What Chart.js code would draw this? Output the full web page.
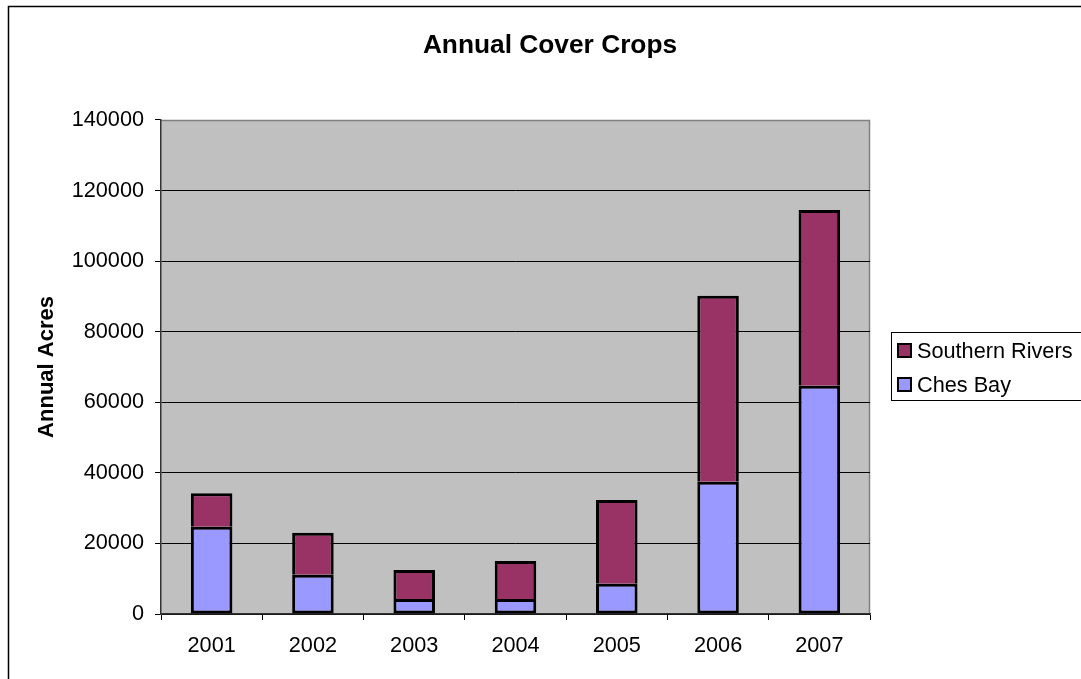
<!DOCTYPE html>
<html>
<head>
<meta charset="utf-8">
<title>Annual Cover Crops</title>
<script src="https://cdn.jsdelivr.net/npm/chart.js@4/dist/chart.umd.min.js"></script>
<style>
  html, body { margin: 0; padding: 0; background: #ffffff; }
  #wrap { position: relative; width: 1081px; height: 679px; }
  canvas { display: block; }
</style>
</head>
<body>
<div id="wrap"><canvas id="chart" width="1081" height="679"></canvas></div>
<script>
// Acres enrolled per year, by region
const years = ['2001', '2002', '2003', '2004', '2005', '2006', '2007'];
const chesBay = [24700, 11100, 4250, 4250, 8600, 37500, 64700];
const southernRivers = [9500, 11900, 8200, 10800, 23700, 52700, 49800];
const yTicks = [0, 20000, 40000, 60000, 80000, 100000, 120000, 140000];

const FONT = '"Liberation Sans", Arial, Helvetica, sans-serif';

// Grey plot background, plot frame, outer chart frame and boxed legend
const decor = {
  id: 'decor',
  beforeDraw(chart) {
    const { ctx, chartArea: a } = chart;
    ctx.save();
    ctx.fillStyle = '#c0c0c0';
    ctx.fillRect(a.left, a.top, a.right - a.left, a.bottom - a.top);
    ctx.strokeStyle = '#808080';
    ctx.lineWidth = 1.5;
    ctx.beginPath();
    ctx.moveTo(a.left, a.top + 0.5);
    ctx.lineTo(a.right - 0.5, a.top + 0.5);
    ctx.lineTo(a.right - 0.5, a.bottom);
    ctx.stroke();
    // outer frame
    ctx.strokeStyle = '#000000';
    ctx.lineWidth = 1.5;
    ctx.beginPath();
    ctx.moveTo(8.5, chart.height + 2);
    ctx.lineTo(8.5, 6.5);
    ctx.lineTo(chart.width + 2, 6.5);
    ctx.stroke();
    ctx.restore();
  },
  afterDraw(chart) {
    const { ctx } = chart;
    ctx.save();
    ctx.strokeStyle = '#000000';
    ctx.lineWidth = 1;
    ctx.strokeRect(891.5, 332.5, 220, 68);
    const items = chart.data.datasets.slice().reverse();
    const rowY = [343, 377];
    ctx.font = '21.7px ' + FONT;
    ctx.textBaseline = 'alphabetic';
    ctx.textAlign = 'left';
    items.forEach((ds, i) => {
      const y = rowY[i];
      ctx.fillStyle = ds.backgroundColor;
      ctx.fillRect(897, y, 15, 15);
      ctx.lineWidth = 2;
      ctx.strokeStyle = '#000000';
      ctx.strokeRect(898, y + 1, 13, 13);
      ctx.fillStyle = '#000000';
      ctx.fillText(ds.label, 917, y + 15);
    });
    ctx.restore();
  }
};

new Chart(document.getElementById('chart'), {
  type: 'bar',
  data: {
    labels: years,
    datasets: [
      {
        label: 'Ches Bay',
        data: chesBay,
        backgroundColor: '#9999ff',
        borderColor: '#000000',
        borderWidth: 3,
        borderSkipped: false,
        barPercentage: 0.41,
        categoryPercentage: 1
      },
      {
        label: 'Southern Rivers',
        data: southernRivers,
        backgroundColor: '#993366',
        borderColor: '#000000',
        borderWidth: 3,
        borderSkipped: 'bottom',
        barPercentage: 0.41,
        categoryPercentage: 1
      }
    ]
  },
  options: {
    responsive: false,
    animation: false,
    devicePixelRatio: 1,
    layout: { padding: { left: 19, right: 0, top: 0, bottom: 0 } },
    plugins: {
      legend: { display: false },
      tooltip: { enabled: false },
      title: {
        display: true,
        text: 'Annual Cover Crops',
        color: '#000000',
        font: { family: FONT, size: 26.3, weight: 'bold' },
        padding: { top: 30, bottom: 58.4 }
      }
    },
    scales: {
      x: {
        stacked: true,
        grid: {
          display: true,
          drawOnChartArea: false,
          drawTicks: true,
          tickLength: 6,
          color: '#000000',
          offset: true
        },
        border: { display: true, color: '#333333', width: 1.5 },
        ticks: {
          color: '#000000',
          padding: 13,
          font: { family: FONT, size: 21.7 }
        },
        afterFit(scale) { scale.height = 65; }
      },
      y: {
        stacked: true,
        min: 0,
        max: 140000,
        afterBuildTicks(scale) { scale.ticks = yTicks.map(v => ({ value: v })); },
        grid: {
          color: ctx => (ctx.tick && ctx.tick.value === 140000 ? 'rgba(0,0,0,0)' : '#000000'),
          tickColor: '#000000',
          tickLength: 6,
          lineWidth: 1
        },
        border: { display: true, color: '#333333', width: 1.5 },
        ticks: {
          color: '#000000',
          padding: 11,
          font: { family: FONT, size: 21.7 },
          callback: v => String(v)
        },
        title: {
          display: true,
          text: 'Annual Acres',
          color: '#000000',
          font: { family: FONT, size: 22, weight: 'bold' },
          padding: { top: 15, bottom: 0 }
        },
        afterFit(scale) { scale.width = 142; }
      },
      // empty right-hand box that reserves room for the legend
      legendSpace: {
        type: 'linear',
        position: 'right',
        display: true,
        grid: { display: false, drawTicks: false },
        border: { display: false },
        ticks: { display: false },
        afterFit(scale) { scale.width = 211; }
      }
    }
  },
  plugins: [decor]
});
</script>
</body>
</html>
